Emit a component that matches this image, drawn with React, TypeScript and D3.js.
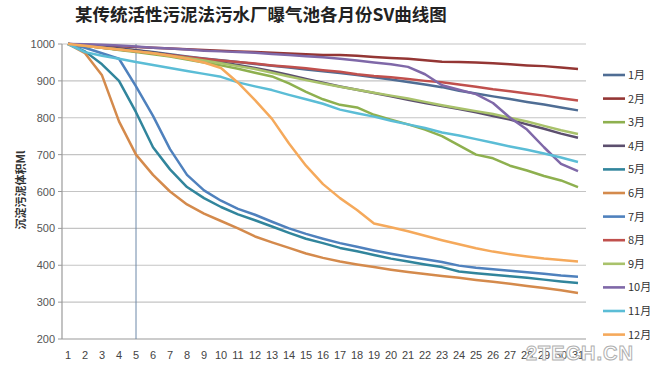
import React from "react";
import * as d3 from "d3";

const days = [1,2,3,4,5,6,7,8,9,10,11,12,13,14,15,16,17,18,19,20,21,22,23,24,25,26,27,28,29,30,31];
const months = ["1月","2月","3月","4月","5月","6月","7月","8月","9月","10月","11月","12月"];
const yTicks = [200,300,400,500,600,700,800,900,1000];

const jan = [1000,996,992,988,983,978,972,966,961,956,951,946,941,936,931,926,921,916,910,904,897,890,883,873,866,858,851,843,836,828,820];
const feb = [1000,998,996,994,992,990,988,986,984,982,980,978,976,974,972,970,970,968,965,962,960,956,952,951,950,948,945,942,940,936,932];
const mar = [1000,995,990,984,978,972,966,958,950,942,933,922,912,893,870,850,835,828,808,795,782,768,750,725,700,690,670,657,642,630,612];
const apr = [1000,997,993,988,983,977,970,963,956,950,943,935,926,916,905,895,885,876,867,858,849,840,832,824,815,805,795,782,770,757,746];
const may = [1000,980,945,900,815,720,660,612,582,558,538,522,505,488,472,460,447,438,428,418,410,402,395,383,378,374,370,366,361,356,352];
const jun = [1000,975,915,790,700,645,600,565,540,520,500,478,462,447,432,420,410,402,395,388,382,376,371,366,360,355,350,344,338,332,325];
const jul = [1000,990,975,960,885,805,715,645,603,575,553,537,518,500,485,472,460,450,440,431,423,416,409,399,393,389,385,381,377,372,369];
const aug = [1000,995,990,985,980,975,970,965,960,955,951,947,942,938,934,929,925,918,913,910,905,900,896,890,884,877,872,866,860,853,847];
const sep = [1000,995,990,985,980,975,968,962,955,948,940,932,922,912,902,893,884,876,868,860,852,843,834,826,818,810,800,790,778,766,756];
const oct = [1000,999,998,996,993,990,988,985,982,980,978,976,973,970,967,964,960,955,950,945,938,918,888,876,864,840,800,768,720,675,655];
const nov = [1000,978,968,960,951,943,935,927,919,911,896,885,875,862,850,838,822,812,803,792,782,772,760,752,742,732,722,713,703,692,680];
const dec = [1000,995,990,985,980,975,968,960,950,935,895,848,797,730,670,620,582,550,513,503,492,480,468,457,446,437,430,424,418,414,410];

const seriesValues = [jan, feb, mar, apr, may, jun, jul, aug, sep, oct, nov, dec];
const colors = ["#4F6D94","#943634","#8EB04F","#5C4F6E","#31859C","#D48A4C","#4F81BD","#C0504D","#A9C26B","#7F68A8","#5BBDD6","#F5A95B"];

export default function App() {
  const left = 62, right = 586, top = 44, bottom = 339;
  const x = d3.scaleLinear().domain([1, 31]).range([68, 578]);
  const y = d3.scaleLinear().domain([200, 1000]).range([bottom, top]);
  const line = d3.line<number>().x((_, i) => x(days[i])).y((v) => y(v));
  const font = "'Liberation Sans', Arial, sans-serif";
  const cjk = "'Noto Sans CJK SC', sans-serif";
  return (
    <div style={{ position: "fixed", left: 0, top: 0, width: 659, height: 368, background: "#fff" }}>
      <svg width={659} height={368} style={{ display: "block" }}>
        <rect width={659} height={368} fill="#fff" />
        <text x={261} y={21} textAnchor="middle" fontFamily={cjk} fontWeight="bold" fontSize={17.5} fill="#222">
          某传统活性污泥法污水厂曝气池各月份SV曲线图
        </text>
        {yTicks.map((t) => (
          <g key={t}>
            <line x1={left} x2={right} y1={y(t)} y2={y(t)} stroke={t === 200 ? "#9a9a9a" : "#c4c4c4"} strokeWidth={1.2} />
            <line x1={left - 4} x2={left} y1={y(t)} y2={y(t)} stroke="#9a9a9a" />
            <text x={55} y={y(t) + 4} textAnchor="end" fontFamily={font} fontSize={11} fill="#555">{t}</text>
          </g>
        ))}
        <line x1={left} x2={left} y1={top} y2={bottom} stroke="#9a9a9a" strokeWidth={1.2} />
        <line x1={x(5)} x2={x(5)} y1={top} y2={bottom} stroke="#6d88a8" strokeWidth={1} />
        {days.map((d) => (
          <text key={d} x={x(d)} y={359} textAnchor="middle" fontFamily={font} fontSize={11} fill="#444">{d}</text>
        ))}
        <text transform={`translate(25,190) rotate(-90)`} textAnchor="middle" fontFamily={cjk} fontWeight="bold" fontSize={11} fill="#333">
          沉淀污泥体积Ml
        </text>
        {seriesValues.map((vals, i) => (
          <path key={i} d={line(vals) || ""} fill="none" stroke={colors[i]} strokeWidth={2.5} strokeLinejoin="round" />
        ))}
        {months.map((m, i) => {
          const ly = 75 + i * 23.6;
          return (
            <g key={m}>
              <line x1={603} x2={625} y1={ly} y2={ly} stroke={colors[i]} strokeWidth={2.6} />
              <text x={628} y={ly + 4} fontFamily={cjk} fontSize={11} fill="#333">{m}</text>
            </g>
          );
        })}
        <text x={580} y={360} textAnchor="middle" fontFamily={font} fontWeight="bold" fontSize={20} fill="#fff" stroke="#b0b0b0" strokeWidth={1} letterSpacing={1}>
          2TECH.CN
        </text>
      </svg>
    </div>
  );
}
